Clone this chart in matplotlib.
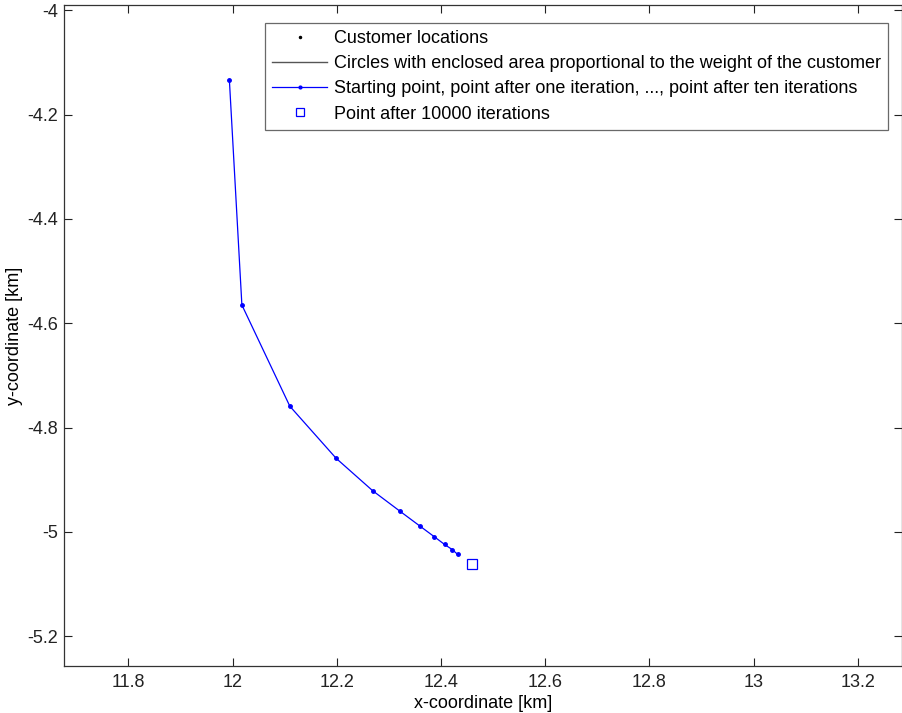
import matplotlib
matplotlib.use("Agg")
import matplotlib.pyplot as plt
from matplotlib.lines import Line2D

plt.rcParams['font.family'] = ['Liberation Sans', 'DejaVu Sans']

# Weiszfeld iterates: starting point and the first ten iterations
iter_x = [11.994, 12.018, 12.110, 12.199, 12.269, 12.321, 12.360, 12.387, 12.407, 12.422, 12.432]
iter_y = [-4.134, -4.565, -4.759, -4.859, -4.921, -4.960, -4.989, -5.009, -5.024, -5.034, -5.043]

# Point after 10000 iterations
final_x = [12.460]
final_y = [-5.062]

x_ticks = [11.8, 12.0, 12.2, 12.4, 12.6, 12.8, 13.0, 13.2]
x_tick_labels = ['11.8', '12', '12.2', '12.4', '12.6', '12.8', '13', '13.2']
y_ticks = [-5.2, -5.0, -4.8, -4.6, -4.4, -4.2, -4.0]
y_tick_labels = ['-5.2', '-5', '-4.8', '-4.6', '-4.4', '-4.2', '-4']

W, H = 902, 713
FS = 13
fig = plt.figure(figsize=(W / 100, H / 100), dpi=100)
ax = fig.add_axes([63.7 / W, (H - 666) / H, (W - 63.7) / W, (666 - 5) / H])

ax.plot(iter_x, iter_y, color='#0000FF', lw=0.9, marker='.', markersize=5,
        label='Starting point, point after one iteration, ..., point after ten iterations')
ax.plot(final_x, final_y, linestyle='none', marker='s', markersize=7,
        markerfacecolor='none', markeredgecolor='#0000FF', markeredgewidth=0.9,
        label='Point after 10000 iterations')

ax.set_xlim(11.676, 13.285)
ax.set_ylim(-5.257, -3.990)
ax.set_xticks(x_ticks)
ax.set_xticklabels(x_tick_labels)
ax.set_yticks(y_ticks)
ax.set_yticklabels(y_tick_labels)
ax.tick_params(direction='in', length=6, width=0.8, top=True, right=True,
               labelsize=FS, colors='#222222')
ax.tick_params(axis='y', pad=4)
ax.tick_params(axis='x', pad=6)
for s in ax.spines.values():
    s.set_color('#333333')
    s.set_linewidth(0.9)

ax.set_xlabel('x-coordinate [km]', fontsize=FS, labelpad=3)
ax.set_ylabel('y-coordinate [km]', fontsize=FS, labelpad=3)

handles = [
    Line2D([], [], linestyle='none', marker='.', markersize=3, color='black'),
    Line2D([], [], color='#555555', lw=1.0),
    Line2D([], [], color='#0000FF', lw=0.9, marker='.', markersize=4),
    Line2D([], [], linestyle='none', marker='s', markersize=6,
           markerfacecolor='none', markeredgecolor='#0000FF', markeredgewidth=0.9),
]
labels = [
    'Customer locations',
    'Circles with enclosed area proportional to the weight of the customer',
    'Starting point, point after one iteration, ..., point after ten iterations',
    'Point after 10000 iterations',
]
leg = ax.legend(handles, labels, loc='upper right',
                bbox_to_anchor=(888 / W, 1 - 23 / H), bbox_transform=fig.transFigure,
                borderaxespad=0, fancybox=False, frameon=True, fontsize=FS,
                handlelength=3.05, handletextpad=0.35, labelspacing=0.45,
                borderpad=0.4)
leg.get_frame().set_edgecolor('#444444')
leg.get_frame().set_linewidth(0.9)

fig.savefig('out.png', dpi=100)
